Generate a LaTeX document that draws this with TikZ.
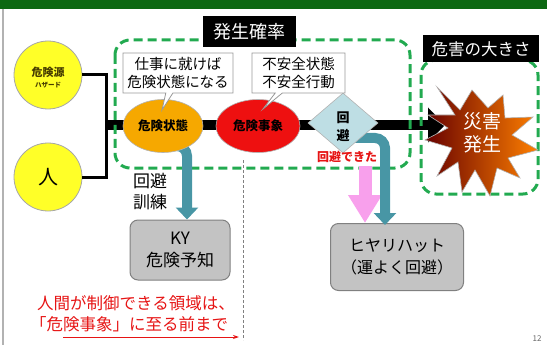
\documentclass[tikz,border=0pt]{standalone}
\usepackage{fontspec}
\setmainfont{Noto Sans CJK JP}
\usetikzlibrary{shapes.geometric,shapes.callouts,arrows.meta}
\definecolor{topgreen}{RGB}{12,104,18}
\definecolor{dgreen}{RGB}{34,170,80}
\definecolor{yel}{RGB}{255,255,40}
\definecolor{orng}{RGB}{246,168,0}
\definecolor{redf}{RGB}{238,16,16}
\definecolor{dia}{RGB}{190,222,228}
\definecolor{tealc}{RGB}{72,150,165}
\definecolor{pinkc}{RGB}{248,160,236}
\definecolor{boxg}{RGB}{195,195,195}
\definecolor{txtred}{RGB}{230,20,20}
\definecolor{olive}{RGB}{70,60,0}
\newcommand\fsz[2]{\fontsize{#1}{#2}\selectfont}
\begin{document}
\begin{tikzpicture}[x=1pt,y=-1pt,
  every node/.style={inner sep=0pt, align=center},
  dashbox/.style={draw=dgreen, line width=3pt, dash pattern=on 9pt off 5pt, rounded corners=15pt},
  blacklabel/.style={fill=black, text=white},
  yc/.style={circle, fill=yel, draw=gray!70, line width=0.8pt, minimum size=68pt},
  tealarrow/.style={draw=tealc, line width=10pt, rounded corners=10pt, -{Triangle[width=22pt,length=12pt]}},
  graybox/.style={rounded corners=8pt, fill=boxg, draw=gray, line width=1pt},
  callbox/.style={rectangle callout, fill=white, draw=gray!80, line width=0.8pt},
  ell/.style={ellipse, draw=gray!60, line width=0.6pt},
]
\useasboundingbox (0,0) rectangle (547,345);
% top bar and frame
\fill[topgreen] (0,0) rectangle (547,9);
\draw[gray!60, line width=1.2pt] (3,9) -- (3,345);
% main black bar
\coordinate (barstart) at (106,125);
\coordinate (bartip) at (445,125);
\draw[line width=10pt, -{Triangle[width=34pt,length=17pt]}] (barstart) -- (bartip);
% dashed regions
\draw[dashbox] (115,40) rectangle (410,168);
\draw[dashbox] (421,60) rectangle (538,194);
% gray dashed vertical line
\coordinate (vtop) at (243,160);
\coordinate (vbot) at (243,340);
\draw[gray, line width=0.6pt, dash pattern=on 3pt off 2pt] (vtop) -- (vbot);
% circles
\node[yc] (haz) at (48,75) {};
\node[text=olive, font={\fsz{11}{12}\bfseries}] (hz1) at (48,72) {危険源};
\node[text=olive, font={\fsz{6.5}{7}\bfseries}] (hz2) at (48,85) {ハザード};
\node[yc, font={\fsz{20}{22}}] (hito) at (48,177) {人};
\coordinate (brtop) at (106,75);
\coordinate (brbot) at (106,177);
\draw[line width=3pt] (haz.east) -- (brtop) -- (brbot) -- (hito.east);
% teal / pink arrows
\node[graybox, minimum width=100pt, minimum height=60pt, font={\fsz{17}{22}}] (ky) at (180,250) {KY\\危険予知};
\node[graybox, minimum width=133pt, minimum height=67pt, font={\fsz{16}{22}}] (hh) at (397,257) {ヒヤリハット\\（運よく回避）};
\coordinate (t1s) at (163,146);
\coordinate (t1c) at (187,146);
\draw[tealarrow] (t1s) -- (t1c) -- (ky.north -| t1c);
\coordinate (pks) at (365,166);
\draw[pinkc, line width=13pt, -{Triangle[width=32pt,length=28pt]}] (pks) -- (pks |- hh.north);
\coordinate (t2s) at (352,138);
\coordinate (t2c) at (385,138);
\draw[tealarrow] (t2s) -- (t2c) -- ([yshift=-2pt]hh.north -| t2c);
% ellipses and diamond
\node[ell, fill=orng, minimum width=80pt, minimum height=53pt, font={\fsz{12.5}{14}\bfseries}] (ds) at (163,126) {危険状態};
\node[ell, fill=redf, minimum width=84pt, minimum height=53pt, font={\fsz{12.5}{14}\bfseries}] (de) at (258,126) {危険事象};
\node[diamond, fill=dia, draw=gray!60, line width=0.6pt, minimum width=70pt, minimum height=60pt] (av) at (343,123) {};
\node[font={\fsz{13}{18}\bfseries}] (avt) at (343,127) {回\\避};
\node[text=txtred, font={\fsz{12}{14}\bfseries}] (avd) at (347,157) {回避できた};
% callouts
\node[callbox, minimum width=110pt, minimum height=40pt, callout absolute pointer={(162,110)}, font={\fsz{14.5}{18}}] (c1) at (178,73) {仕事に就けば\\危険状態になる};
\node[callbox, minimum width=93pt, minimum height=40pt, callout absolute pointer={(263,109)}, font={\fsz{14.5}{18}}] (c2) at (298.5,73) {不安全状態\\不安全行動};
% labels
\node[blacklabel, minimum width=93pt, minimum height=31pt, font={\fsz{18}{20}}] (lp) at (249.5,32) {発生確率};
\node[blacklabel, minimum width=116pt, minimum height=27pt, font={\fsz{16.5}{18}}] (lh) at (481,49) {危害の大きさ};
% starburst
\path[draw=gray!60, line width=0.6pt, left color=red!40!black, middle color=red, right color=orange]
  (437,87) -- (460,110) -- (472,90) -- (488,108) -- (503,95) -- (505,118) -- (533,117) -- (512,135)
  -- (538,150) -- (508,158) -- (520,178) -- (497,168) -- (490,196) -- (475,170) -- (462,192)
  -- (458,162) -- (437,176) -- (452,148) -- (425,140) -- (448,128) -- (428,115) -- (455,115) -- cycle;
\node[text=white, font={\fsz{19}{23}}] (sg) at (482,133) {災害\\発生};
% other texts
\node[font={\fsz{17}{21}}] (kr) at (150,192) {回避\\訓練};
\node[text=txtred, anchor=west, font={\fsz{16.5}{18}}] (rt1) at (37,303) {人間が制御できる領域は、};
\node[text=txtred, anchor=west, font={\fsz{16.5}{18}}] (rt2) at (30,324) {「危険事象」に至る前まで};
\coordinate (ra1) at (63,337);
\coordinate (ra2) at (239,337);
\draw[txtred, line width=1pt, -{Stealth[length=6pt,width=4pt]}] (ra1) -- (ra2);
\node[text=gray!80!black, font={\fsz{8}{9}}] (pg) at (537,339) {12};
\end{tikzpicture}
\end{document}
